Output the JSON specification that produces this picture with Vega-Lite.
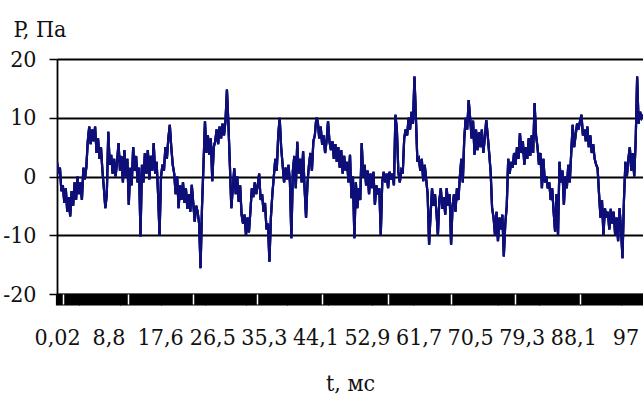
{
  "$schema": "https://vega.github.io/schema/vega-lite/v6.json",
  "width": 586,
  "height": 235,
  "autosize": "none",
  "padding": {"left": 57, "top": 59, "right": 0, "bottom": 100},
  "background": "white",
  "config": {"view": {"stroke": null}},
  "data": {"values": [
    {"t":0,"p":2.5},{"t":0.25,"p":0.5},{"t":0.5,"p":1.5},{"t":0.75,"p":-2.5},
    {"t":1,"p":-1.5},{"t":1.25,"p":-4.5},{"t":1.5,"p":-2},{"t":1.75,"p":-6},
    {"t":2,"p":-3.5},{"t":2.25,"p":-6.8},{"t":2.5,"p":-2.5},{"t":2.75,"p":-5},
    {"t":3,"p":-1},{"t":3.25,"p":-4},{"t":3.5,"p":0},{"t":3.75,"p":-3},
    {"t":4,"p":-1},{"t":4.25,"p":-4},{"t":4.5,"p":1.5},{"t":4.75,"p":-0.5},
    {"t":5,"p":1.5},{"t":5.25,"p":6},{"t":5.5,"p":8.5},{"t":5.75,"p":5.5},
    {"t":6,"p":8},{"t":6.25,"p":6},{"t":6.5,"p":8.5},{"t":6.75,"p":4},
    {"t":7,"p":6.5},{"t":7.25,"p":3},{"t":7.5,"p":5},{"t":7.75,"p":1},
    {"t":8,"p":-2},{"t":8.25,"p":-5.4},{"t":8.5,"p":-3},{"t":8.75,"p":7.6},
    {"t":9,"p":2},{"t":9.25,"p":3.7},{"t":9.5,"p":0.5},{"t":9.75,"p":3},
    {"t":10,"p":0},{"t":10.25,"p":2.5},{"t":10.5,"p":5.7},{"t":10.75,"p":1},
    {"t":11,"p":3.5},{"t":11.25,"p":-1},{"t":11.5,"p":4.5},{"t":11.75,"p":0},
    {"t":12,"p":3},{"t":12.25,"p":-4.8},{"t":12.5,"p":1.5},{"t":12.75,"p":-1.5},
    {"t":13,"p":5},{"t":13.25,"p":1},{"t":13.5,"p":3.5},{"t":13.75,"p":-1},
    {"t":14,"p":1.5},{"t":14.25,"p":-10.2},{"t":14.5,"p":2},{"t":14.75,"p":-1},
    {"t":15,"p":4},{"t":15.25,"p":0.5},{"t":15.5,"p":4.5},{"t":15.75,"p":-0.5},
    {"t":16,"p":3.5},{"t":16.25,"p":1},{"t":16.5,"p":5.7},{"t":16.75,"p":0.5},
    {"t":17,"p":2.5},{"t":17.25,"p":-3},{"t":17.5,"p":-10},{"t":17.75,"p":0},
    {"t":18,"p":2},{"t":18.25,"p":1},{"t":18.5,"p":5},{"t":18.75,"p":3},
    {"t":19,"p":6.5},{"t":19.25,"p":8.8},{"t":19.5,"p":5},{"t":19.75,"p":2},
    {"t":20,"p":0.5},{"t":20.25,"p":-3},{"t":20.5,"p":0},{"t":20.75,"p":-5.4},
    {"t":21,"p":-1.5},{"t":21.25,"p":-4},{"t":21.5,"p":-1},{"t":21.75,"p":-4.5},
    {"t":22,"p":-2},{"t":22.25,"p":-5.5},{"t":22.5,"p":-3},{"t":22.75,"p":-6},
    {"t":23,"p":-1.4},{"t":23.25,"p":-4.5},{"t":23.5,"p":-7.7},{"t":23.75,"p":-5},
    {"t":24,"p":-6},{"t":24.25,"p":-8},{"t":24.5,"p":-15.6},{"t":24.75,"p":-5},
    {"t":25,"p":2},{"t":25.25,"p":9.4},{"t":25.5,"p":4},{"t":25.75,"p":7},
    {"t":26,"p":3.7},{"t":26.25,"p":6.5},{"t":26.5,"p":-0.8},{"t":26.75,"p":5},
    {"t":27,"p":6},{"t":27.25,"p":8},{"t":27.5,"p":5.5},{"t":27.75,"p":8.5},
    {"t":28,"p":6.5},{"t":28.25,"p":9},{"t":28.5,"p":7},{"t":28.75,"p":9.4},
    {"t":29,"p":14.8},{"t":29.25,"p":9},{"t":29.5,"p":2},{"t":29.75,"p":-5.4},
    {"t":30,"p":-2},{"t":30.25,"p":1.4},{"t":30.5,"p":-3},{"t":30.75,"p":0},
    {"t":31,"p":-4.3},{"t":31.25,"p":-1.5},{"t":31.5,"p":-6.5},{"t":31.75,"p":-8},
    {"t":32,"p":-6.5},{"t":32.25,"p":-10},{"t":32.5,"p":-7},{"t":32.75,"p":-9.5},
    {"t":33,"p":-6},{"t":33.25,"p":-2},{"t":33.5,"p":-3.5},{"t":33.75,"p":-1},
    {"t":34,"p":-3},{"t":34.25,"p":-1.5},{"t":34.5,"p":0.5},{"t":34.75,"p":-4},
    {"t":35,"p":-3},{"t":35.25,"p":-6},{"t":35.5,"p":-4.5},{"t":35.75,"p":-9},
    {"t":36,"p":-8},{"t":36.25,"p":-14.5},{"t":36.5,"p":-7},{"t":36.75,"p":-3},
    {"t":37,"p":0},{"t":37.25,"p":3},{"t":37.5,"p":1},{"t":37.75,"p":7},
    {"t":38,"p":10},{"t":38.25,"p":5},{"t":38.5,"p":2},{"t":38.75,"p":-1},
    {"t":39,"p":1.5},{"t":39.25,"p":-0.5},{"t":39.5,"p":2},{"t":39.75,"p":-1},
    {"t":40,"p":-10.5},{"t":40.25,"p":1},{"t":40.5,"p":3.5},{"t":40.75,"p":-2},
    {"t":41,"p":5.9},{"t":41.25,"p":0.5},{"t":41.5,"p":3},{"t":41.75,"p":-1},
    {"t":42,"p":4.3},{"t":42.25,"p":-2},{"t":42.5,"p":-7},{"t":42.75,"p":-1},
    {"t":43,"p":2},{"t":43.25,"p":4},{"t":43.5,"p":1},{"t":43.75,"p":6},
    {"t":44,"p":7},{"t":44.25,"p":10},{"t":44.5,"p":9.4},{"t":44.75,"p":6.5},
    {"t":45,"p":8.5},{"t":45.25,"p":5.4},{"t":45.5,"p":7},{"t":45.75,"p":4},
    {"t":46,"p":6},{"t":46.25,"p":9.4},{"t":46.5,"p":5.9},{"t":46.75,"p":4.5},
    {"t":47,"p":6},{"t":47.25,"p":3},{"t":47.5,"p":5.5},{"t":47.75,"p":2.5},
    {"t":48,"p":5},{"t":48.25,"p":1.5},{"t":48.5,"p":4.5},{"t":48.75,"p":0.5},
    {"t":49,"p":3.5},{"t":49.25,"p":1},{"t":49.5,"p":2.5},{"t":49.75,"p":-1},
    {"t":50,"p":3.7},{"t":50.25,"p":-3.7},{"t":50.5,"p":0},{"t":50.75,"p":-10.5},
    {"t":51,"p":-1},{"t":51.25,"p":-5.4},{"t":51.5,"p":-2},{"t":51.75,"p":-4},
    {"t":52,"p":5.7},{"t":52.25,"p":0},{"t":52.5,"p":2},{"t":52.75,"p":-1.5},
    {"t":53,"p":1},{"t":53.25,"p":-3},{"t":53.5,"p":0.5},{"t":53.75,"p":-2},
    {"t":54,"p":0.8},{"t":54.25,"p":-4.8},{"t":54.5,"p":-1.5},{"t":54.75,"p":-3},
    {"t":55,"p":-2},{"t":55.25,"p":-10},{"t":55.5,"p":-1},{"t":55.75,"p":0.8},
    {"t":56,"p":-1},{"t":56.25,"p":0.5},{"t":56.5,"p":-2},{"t":56.75,"p":0.8},
    {"t":57,"p":-0.5},{"t":57.25,"p":0.5},{"t":57.5,"p":-1.5},{"t":57.75,"p":10.5},
    {"t":58,"p":8},{"t":58.25,"p":0.8},{"t":58.5,"p":-1},{"t":58.75,"p":1},
    {"t":59,"p":0.5},{"t":59.25,"p":6.5},{"t":59.5,"p":8},{"t":59.75,"p":7},
    {"t":60,"p":10},{"t":60.25,"p":8},{"t":60.5,"p":11},{"t":60.75,"p":9},
    {"t":61,"p":17},{"t":61.25,"p":10},{"t":61.5,"p":2.5},{"t":61.75,"p":3},
    {"t":62,"p":1},{"t":62.25,"p":3},{"t":62.5,"p":-0.8},{"t":62.75,"p":2},
    {"t":63,"p":-0.5},{"t":63.25,"p":-3},{"t":63.5,"p":-11.6},{"t":63.75,"p":-6.5},
    {"t":64,"p":-2},{"t":64.25,"p":-5},{"t":64.5,"p":-3},{"t":64.75,"p":-6},
    {"t":65,"p":-10},{"t":65.25,"p":-4},{"t":65.5,"p":-2},{"t":65.75,"p":-5.5},
    {"t":66,"p":-3.5},{"t":66.25,"p":-6.5},{"t":66.5,"p":-2},{"t":66.75,"p":-5},
    {"t":67,"p":-3},{"t":67.25,"p":-11.6},{"t":67.5,"p":-5},{"t":67.75,"p":-3},
    {"t":68,"p":-6},{"t":68.25,"p":-2},{"t":68.5,"p":-4},{"t":68.75,"p":0},
    {"t":69,"p":3},{"t":69.25,"p":-1},{"t":69.5,"p":6.5},{"t":69.75,"p":10},
    {"t":70,"p":8},{"t":70.25,"p":13},{"t":70.5,"p":10},{"t":70.75,"p":6.5},
    {"t":71,"p":9.5},{"t":71.25,"p":3.7},{"t":71.5,"p":8},{"t":71.75,"p":4.5},
    {"t":72,"p":7.5},{"t":72.25,"p":5},{"t":72.5,"p":8},{"t":72.75,"p":4},
    {"t":73,"p":6.5},{"t":73.25,"p":9.6},{"t":73.5,"p":7},{"t":73.75,"p":4},
    {"t":74,"p":0.8},{"t":74.25,"p":-5.4},{"t":74.5,"p":-7},{"t":74.75,"p":-10},
    {"t":75,"p":-6},{"t":75.25,"p":-11},{"t":75.5,"p":-7},{"t":75.75,"p":-9},
    {"t":76,"p":-6.5},{"t":76.25,"p":-13.6},{"t":76.5,"p":-8},{"t":76.75,"p":-5},
    {"t":77,"p":3},{"t":77.25,"p":0.5},{"t":77.5,"p":2.5},{"t":77.75,"p":1.5},
    {"t":78,"p":4},{"t":78.25,"p":2},{"t":78.5,"p":5},{"t":78.75,"p":3},
    {"t":79,"p":7.4},{"t":79.25,"p":4},{"t":79.5,"p":6},{"t":79.75,"p":2},
    {"t":80,"p":5},{"t":80.25,"p":3},{"t":80.5,"p":6.5},{"t":80.75,"p":3.5},
    {"t":81,"p":7},{"t":81.25,"p":4},{"t":81.5,"p":12.5},{"t":81.75,"p":7},
    {"t":82,"p":5},{"t":82.25,"p":2},{"t":82.5,"p":4},{"t":82.75,"p":-2},
    {"t":83,"p":3},{"t":83.25,"p":-1},{"t":83.5,"p":0},{"t":83.75,"p":-2},
    {"t":84,"p":-1},{"t":84.25,"p":-4},{"t":84.5,"p":-2},{"t":84.75,"p":-6},
    {"t":85,"p":-9.4},{"t":85.25,"p":-3},{"t":85.5,"p":-10},{"t":85.75,"p":2.5},
    {"t":86,"p":-1},{"t":86.25,"p":1},{"t":86.5,"p":-4.8},{"t":86.75,"p":0},
    {"t":87,"p":-2},{"t":87.25,"p":2},{"t":87.5,"p":-1},{"t":87.75,"p":4},
    {"t":88,"p":8.8},{"t":88.25,"p":5},{"t":88.5,"p":7},{"t":88.75,"p":9},
    {"t":89,"p":8},{"t":89.25,"p":9.4},{"t":89.5,"p":10.5},{"t":89.75,"p":7},
    {"t":90,"p":8},{"t":90.25,"p":6},{"t":90.5,"p":8.5},{"t":90.75,"p":5},
    {"t":91,"p":7},{"t":91.25,"p":4},{"t":91.5,"p":5.5},{"t":91.75,"p":3},
    {"t":92,"p":2},{"t":92.25,"p":1.4},{"t":92.5,"p":-3},{"t":92.75,"p":-7},
    {"t":93,"p":-4},{"t":93.25,"p":-10},{"t":93.5,"p":-5.4},{"t":93.75,"p":-7},
    {"t":94,"p":-6},{"t":94.25,"p":-9},{"t":94.5,"p":-5.5},{"t":94.75,"p":-8},
    {"t":95,"p":-6},{"t":95.25,"p":-10},{"t":95.5,"p":-7},{"t":95.75,"p":-11},
    {"t":96,"p":-5.4},{"t":96.25,"p":-9},{"t":96.5,"p":-13.9},{"t":96.75,"p":-4},
    {"t":97,"p":2.5},{"t":97.25,"p":0},{"t":97.5,"p":3},{"t":97.75,"p":5},
    {"t":98,"p":1},{"t":98.25,"p":4},{"t":98.5,"p":0},{"t":98.75,"p":6},
    {"t":99,"p":17},{"t":99.25,"p":9},{"t":99.5,"p":11},{"t":99.75,"p":10},
    {"t":100,"p":10.5}
  ]},
  "resolve": {"axis": {"x": "independent"}},
  "layer": [
    {
      "mark": {"type": "line", "color": "#0e0e78", "strokeWidth": 2.2, "clip": true},
      "encoding": {
        "x": {"field": "t", "type": "quantitative",
          "scale": {"domain": [0, 100], "nice": false, "zero": false},
          "axis": {"orient": "bottom", "values": [0.02, 8.8, 17.6, 26.5, 35.3, 44.1, 52.9, 61.7, 70.5, 79.3, 88.1, 97],
            "labelExpr": "replace(toString(datum.value), '.', ',')",
            "ticks": false, "domain": false, "grid": false,
            "labelFont": "DejaVu Serif Condensed", "labelFontSize": 23, "labelColor": "#111",
            "labelPadding": 32, "labelOverlap": false, "labelFlush": false,
            "title": "t, мс", "titleFont": "DejaVu Serif Condensed", "titleFontSize": 23,
            "titleFontWeight": "normal", "titleColor": "#111", "titleBaseline": "alphabetic", "titleY": 96}},
        "y": {"field": "p", "type": "quantitative",
          "scale": {"domain": [-20, 20], "nice": false, "zero": false},
          "axis": {"values": [-20, -10, 0, 10, 20], "grid": true, "gridColor": "#000", "gridWidth": 1.8,
            "domainColor": "#000", "domainWidth": 1.8, "tickColor": "#000", "tickSize": 8, "tickWidth": 1.5,
            "labelFont": "DejaVu Serif Condensed", "labelFontSize": 23, "labelColor": "#111", "labelPadding": 13,
            "labelExpr": "toString(datum.value)",
            "title": "P, Па", "titleAngle": 0, "titleAlign": "left", "titleBaseline": "alphabetic",
            "titleX": -44, "titleY": -23, "titleFont": "DejaVu Serif Condensed", "titleFontSize": 23,
            "titleFontWeight": "normal", "titleColor": "#111"}}
      }
    },
    {
      "mark": {"type": "line", "color": "#0e0e78", "strokeWidth": 2.2, "clip": true},
      "encoding": {
        "x": {"field": "t", "type": "quantitative",
          "axis": {"orient": "bottom", "tickCount": 200, "labels": false, "grid": false, "title": null,
            "domain": true, "domainColor": "#000", "domainWidth": 1.5,
            "tickColor": "#000", "tickSize": 11, "tickWidth": 3.2, "zindex": 1}},
        "y": {"field": "p", "type": "quantitative"}
      }
    },
    {
      "mark": {"type": "line", "color": "#0e0e78", "strokeWidth": 2.2, "clip": true},
      "encoding": {
        "x": {"field": "t", "type": "quantitative",
          "axis": {"orient": "bottom", "values": [1.04, 12.1, 23.2, 34.2, 45.3, 56.4, 67.3, 78.2, 89.3],
            "labels": false, "grid": false, "title": null, "domain": false,
            "tickColor": "white", "tickSize": 10, "tickWidth": 1.5, "zindex": 2}},
        "y": {"field": "p", "type": "quantitative"}
      }
    }
  ]
}
